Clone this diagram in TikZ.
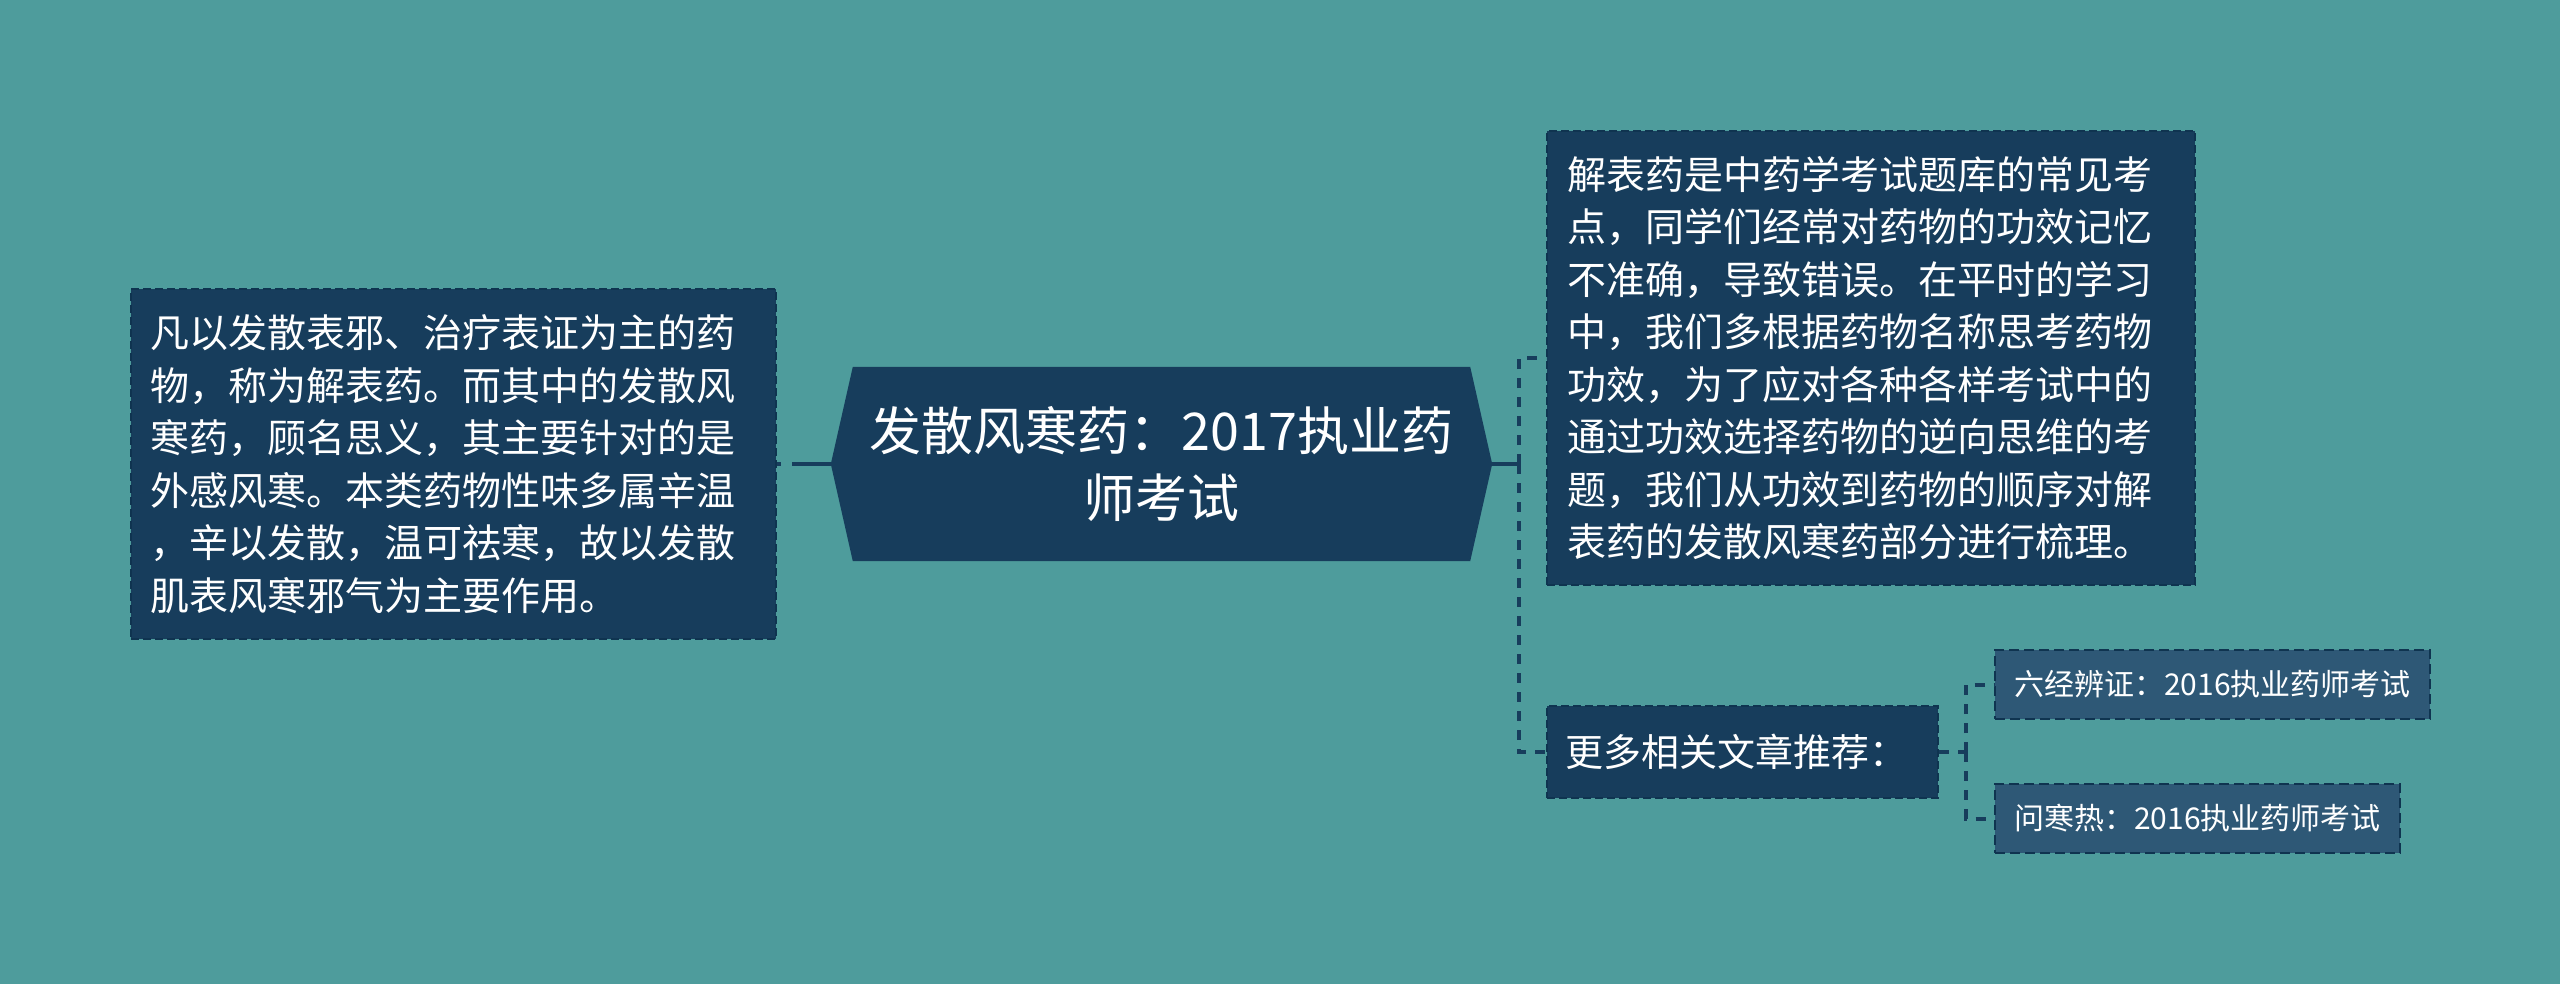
\documentclass[tikz,border=0pt]{standalone}
\usepackage{fontspec}
\newfontfamily\cjk{Noto Sans CJK SC}
\usetikzlibrary{backgrounds}
\definecolor{bgteal}{HTML}{4E9C9C}
\definecolor{darkbox}{HTML}{173D5C}
\definecolor{lightbox}{HTML}{2E5876}
\definecolor{edgecol}{HTML}{0F3450}
\tikzset{
  leafbox/.style={fill=darkbox, draw=edgecol, line width=2pt, dash pattern=on 8pt off 4pt,
    text=white, inner sep=0pt, align=left, font=\cjk\fontsize{39}{52.5}\selectfont},
  subbox/.style={fill=lightbox, draw=edgecol, line width=2.5pt, dash pattern=on 10pt off 5pt,
    text=white, inner sep=0pt, font=\cjk\fontsize{30}{36}\selectfont},
  conn/.style={draw=darkbox, line width=4pt, dash pattern=on 10pt off 9pt},
  solidconn/.style={draw=darkbox, line width=4pt},
}
\begin{document}
\begin{tikzpicture}[x=1pt,y=-1pt]
\useasboundingbox (0,0) rectangle (2560,984);

% center node
\node[minimum width=661pt, minimum height=194pt, inner sep=0pt, text=white, align=center,
      font=\cjk\fontsize{52}{67}\selectfont] (root) at (1161.5,464) {发散风寒药：2017执业药\\师考试};
\begin{scope}[on background layer]
\fill[bgteal] (0,0) rectangle (2560,984);
\fill[darkbox] (root.west) -- ([xshift=22pt]root.north west) -- ([xshift=-22pt]root.north east)
  -- (root.east) -- ([xshift=-22pt]root.south east) -- ([xshift=22pt]root.south west) -- cycle;
\end{scope}

% left leaf
\node[leafbox, minimum width=645pt, minimum height=350pt, text width=606pt] (leftbox) at (453.5,464)
  {凡以发散表邪、治疗表证为主的药\\物，称为解表药。而其中的发散风\\寒药，顾名思义，其主要针对的是\\外感风寒。本类药物性味多属辛温\\，辛以发散，温可祛寒，故以发散\\肌表风寒邪气为主要作用。};

% right top leaf
\node[leafbox, minimum width=648pt, minimum height=454pt, text width=608pt] (topbox) at (1871,358)
  {解表药是中药学考试题库的常见考\\点，同学们经常对药物的功效记忆\\不准确，导致错误。在平时的学习\\中，我们多根据药物名称思考药物\\功效，为了应对各种各样考试中的\\通过功效选择药物的逆向思维的考\\题，我们从功效到药物的顺序对解\\表药的发散风寒药部分进行梳理。};

% more box
\node[leafbox, minimum width=391pt, minimum height=92pt, text width=355pt,
      font=\cjk\fontsize{38}{46}\selectfont] (more) at (1742.5,752) {更多相关文章推荐：};

% sub boxes
\node[subbox, minimum width=435pt, minimum height=69pt] (box1) at (2212.5,684.5) {六经辨证：2016执业药师考试};
\node[subbox, minimum width=405pt, minimum height=69pt] (box2) at (2197.5,818.5) {问寒热：2016执业药师考试};

% connectors
\coordinate (jr) at (1519,464);
\coordinate (j2) at (1966,752);
\draw[darkbox, line width=4pt, dash pattern=on 39pt off 11pt] (root.west) -- (leftbox.east);
\draw[solidconn] (root.east) -- (jr);
\draw[conn] (jr) |- (topbox.west);
\draw[conn] (jr) |- (more.west);
\draw[conn] (more.east) -- (j2);
\draw[conn] (j2) |- (box1.west);
\draw[conn] (j2) |- (box2.west);
\end{tikzpicture}
\end{document}
